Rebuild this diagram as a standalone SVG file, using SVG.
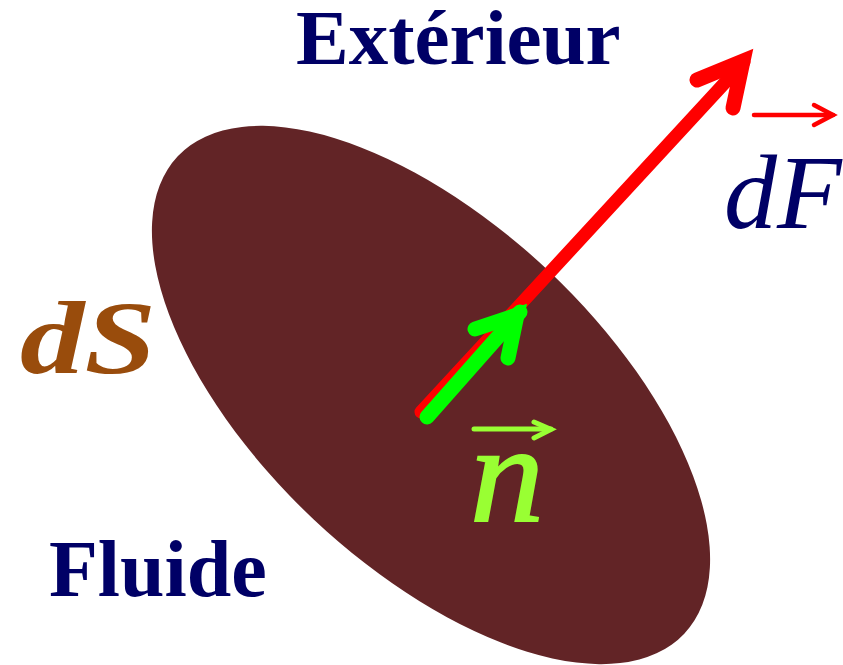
<svg xmlns="http://www.w3.org/2000/svg" width="843" height="665" viewBox="0 0 843 665">
<style>
.lbl{font-family:"Liberation Serif","Times New Roman",serif;}
.bold{font-weight:bold;}
.it{font-style:italic;}
.navy{fill:#000066;}
.arr{fill:none;stroke-linecap:round;stroke-linejoin:miter;}
</style>
<rect width="843" height="665" fill="#ffffff"/>
<g id="surface">
<ellipse cx="431" cy="395" rx="348" ry="171" transform="rotate(43.3 431 395)" fill="#622426"/>
</g>
<g id="connectors">
<g id="force-arrow">
<path class="arr" d="M421,412 L744,62" stroke="#ff0000" stroke-width="13"/>
<path class="arr" d="M697,80 L743,61 L733,108" stroke="#ff0000" stroke-width="15"/>
</g>
<g id="normal-arrow">
<path class="arr" d="M427,417 L520,312" stroke="#00ff00" stroke-width="15"/>
<path class="arr" d="M475,329 L517,315 L508,358" stroke="#00ff00" stroke-width="15"/>
</g>
<g id="vec-dF">
<path class="arr" d="M754,115 L833,115" stroke="#ff0000" stroke-width="4.5"/>
<path class="arr" d="M814,105 L833,115 L814,125" stroke="#ff0000" stroke-width="4.5"/>
</g>
<g id="vec-n">
<path class="arr" d="M474,429 L551,429" stroke="#99ff33" stroke-width="5"/>
<path class="arr" d="M534,422 L551,429.5 L534,438" stroke="#99ff33" stroke-width="5"/>
</g>
</g>
<g id="label-exterieur">
<text class="lbl bold navy" x="296" y="64" font-size="79">Extérieur</text>
</g>
<g id="label-fluide">
<text class="lbl bold navy" x="49" y="596" font-size="80">Fluide</text>
</g>
<g id="label-dS">
<text class="lbl bold it" x="20" y="373" font-size="104" fill="#994c0c" textLength="136" lengthAdjust="spacingAndGlyphs">dS</text>
</g>
<g id="label-dF">
<text class="lbl it navy" x="724" y="228" font-size="106">dF</text>
</g>
<g id="label-n">
<text class="lbl it" x="470" y="521" font-size="140" fill="#99ff33" stroke="#99ff33" stroke-width="2" textLength="74" lengthAdjust="spacingAndGlyphs">n</text>
</g>
</svg>
